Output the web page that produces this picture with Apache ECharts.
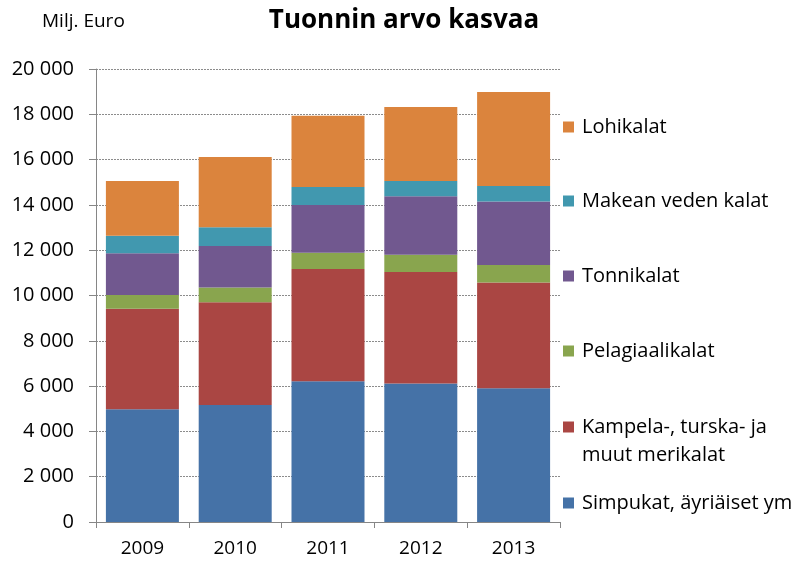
<!DOCTYPE html>
<html>
<head>
<meta charset="utf-8">
<script src="https://cdn.jsdelivr.net/npm/echarts@6/dist/echarts.min.js"></script>
<style>
    html, body { margin: 0; padding: 0; background: #fff; }
    #chart { width: 804px; height: 563px; }
</style>
</head>
<body>
<div id="chart"></div>
<script>
// vuodet
const years = ["2009", "2010", "2011", "2012", "2013"];

// Milj. euroa, luettu kuvasta
const simpukat = [4980, 5170, 6210, 6120, 5900];
const kampela = [4440, 4530, 4960, 4920, 4670];
const pelagia = [600, 650, 720, 760, 780];
const tonnikalat = [1840, 1840, 2105, 2580, 2795];
const makean = [780, 825, 795, 675, 690];
const lohikalat = [2420, 3105, 3150, 3265, 4150];

const names = [
    "Simpukat, äyriäiset ym",
    "Kampela-, turska- ja",
    "Pelagiaalikalat",
    "Tonnikalat",
    "Makean veden kalat",
    "Lohikalat"
];
const color = ["#4572A7", "#AA4643", "#89A54E", "#71588F", "#4198AF", "#DB843D"];
const font = "'Open Sans', sans-serif";

const chart = echarts.init(document.getElementById("chart"));

const dataList = [simpukat, kampela, pelagia, tonnikalat, makean, lohikalat];
// legend positions (top in px)
const legendTops = [485, 409, 333, 258, 183, 109];

let seriesData = [];
let legendList = [];
dataList.forEach((values, idx) => {
    seriesData.push({
        name: names[idx],
        type: "bar",
        stack: "total",
        barWidth: 73,
        data: values,
        itemStyle: {
            color: color[idx]
        }
    });
    legendList.push({
        data: [{ name: names[idx], icon: "rect" }],
        orient: "vertical",
        left: 558,
        top: legendTops[idx],
        itemWidth: 11,
        itemHeight: 11,
        itemGap: 0,
        selectedMode: false,
        textStyle: {
            fontFamily: font,
            fontSize: 20,
            color: "#000",
            lineHeight: 26,
            padding: [0, 0, 0, 3]
        }
    });
});

const options = {
    color: color,
    animation: false,
    title: [
        {
            text: "Tuonnin arvo kasvaa",
            left: 399,
            top: 3,
            textAlign: "center",
            textStyle: {
                fontFamily: font,
                fontSize: 26,
                fontWeight: "bold",
                color: "#000"
            }
        },
        {
            text: "Milj. Euro",
            left: 37,
            top: 7,
            textStyle: {
                fontFamily: font,
                fontSize: 19,
                fontWeight: "normal",
                color: "#000"
            }
        },
        {
            // second line of the Kampela legend entry
            text: "muut merikalat",
            left: 582,
            top: 442,
            padding: 0,
            textStyle: {
                fontFamily: font,
                fontSize: 20,
                fontWeight: "normal",
                lineHeight: 26,
                color: "#000"
            }
        }
    ],
    legend: legendList,
    grid: {
        left: 96,
        right: 244,
        top: 69,
        bottom: 41
    },
    xAxis: {
        type: "category",
        data: years,
        axisLine: {
            lineStyle: { color: "#868686" }
        },
        axisTick: {
            show: true,
            length: 6,
            lineStyle: { color: "#868686" }
        },
        axisLabel: {
            margin: 17,
            fontFamily: font,
            fontSize: 19,
            color: "#000"
        }
    },
    yAxis: {
        type: "value",
        min: 0,
        max: 20000,
        interval: 2000,
        axisLine: {
            show: true,
            lineStyle: { color: "#868686" }
        },
        axisTick: {
            show: true,
            inside: false,
            length: 7,
            lineStyle: { color: "#868686" }
        },
        axisLabel: {
            margin: 22,
            fontFamily: font,
            fontSize: 20,
            color: "#000",
            formatter: function (v) {
                return String(v).replace(/\B(?=(\d{3})+(?!\d))/g, " ");
            }
        },
        splitLine: {
            lineStyle: {
                color: "#8c8c8c",
                type: [2, 1],
                width: 1
            }
        }
    },
    series: seriesData
};

chart.setOption(options);
</script>
</body>
</html>
